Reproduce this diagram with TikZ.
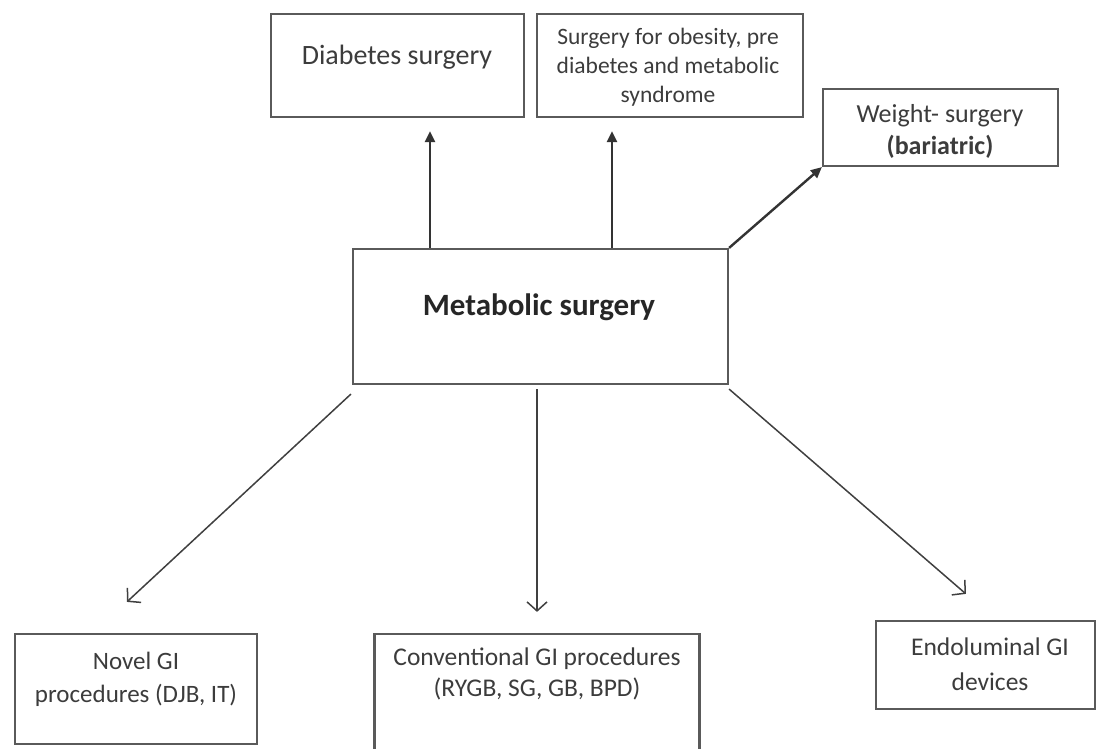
\documentclass[tikz,border=0pt]{standalone}
\usepackage{fontspec}
\setmainfont{Carlito}
\usetikzlibrary{arrows.meta}
\definecolor{boxline}{HTML}{5A5A5A}
\definecolor{txt}{HTML}{3C3C3C}
\begin{document}
\begin{tikzpicture}[x=1pt,y=-1pt,
  box/.style={draw=boxline, line width=2.2pt, inner sep=0pt, fill=white},
  lbl/.style={text=txt, align=center, inner sep=0pt},
  uparr/.style={draw=black!80, line width=2.4pt, -{Triangle[length=11pt,width=10pt]}},
  dnarr/.style={draw=black!75, line width=1.5pt, -{Straight Barb[length=9pt,width=20pt,line width=1.5pt]}}
]
\useasboundingbox (0,0) rectangle (1097,749);
\fill[white] (0,0) rectangle (1097,749);

% boxes
\node[box, minimum width=253pt, minimum height=103pt] (dbox) at (397.5,65.5) {};
\node[box, minimum width=266pt, minimum height=103pt] (obox) at (670,65.5) {};
\node[box, minimum width=235pt, minimum height=77pt] (wbox) at (940.5,127.5) {};
\node[box, minimum width=375pt, minimum height=135pt] (met) at (540.5,316.5) {};
\node[box, minimum width=242pt, minimum height=110pt] (nbox) at (136,689) {};
\node[box, minimum width=325pt, minimum height=126pt] (cbox) at (537,697) {};
\node[box, minimum width=219pt, minimum height=88pt] (ebox) at (985.5,665) {};

% texts
\node[lbl, font=\fontsize{28}{30}\selectfont] (dtxt) at (397,57) {Diabetes surgery};
\node[lbl, font=\fontsize{23.5}{29}\selectfont] (otxt) at (668,67) {Surgery for obesity, pre\\diabetes and metabolic\\syndrome};
\node[lbl, font=\fontsize{26}{32}\selectfont] (wtxt) at (940,131) {Weight- surgery\\\textbf{(bariatric)}};
\node[lbl, font=\fontsize{31}{32}\selectfont\bfseries, text=black!85] (mtxt) at (539,307) {Metabolic surgery};
\node[lbl, font=\fontsize{25}{33}\selectfont] (ntxt) at (136,679) {Novel GI\\procedures (DJB, IT)};
\node[lbl, font=\fontsize{25.5}{31}\selectfont] (ctxt) at (537,674) {Conventional GI procedures\\(RYGB, SG, GB, BPD)};
\node[lbl, font=\fontsize{25.5}{35}\selectfont] (etxt) at (990,664) {Endoluminal GI\\devices};

% connectors
\draw[uparr] ([xshift=-110.5pt]met.north) -- ([xshift=32.5pt,yshift=-13pt]dbox.south);
\draw[uparr] ([xshift=71.5pt]met.north) -- ([xshift=-58pt,yshift=-13pt]obox.south);
\draw[uparr] (met.north east) -- (wbox.south west);
\draw[dnarr] ([xshift=-1pt,yshift=-9pt]met.south west) -- ([xshift=113pt,yshift=31pt]nbox.north west);
\draw[dnarr] ([xshift=-3.5pt,yshift=-4pt]met.south) -- ([yshift=21pt]cbox.north);
\draw[dnarr] ([yshift=-4pt]met.south east) -- ([xshift=91pt,yshift=26pt]ebox.north west);
\end{tikzpicture}
\end{document}
